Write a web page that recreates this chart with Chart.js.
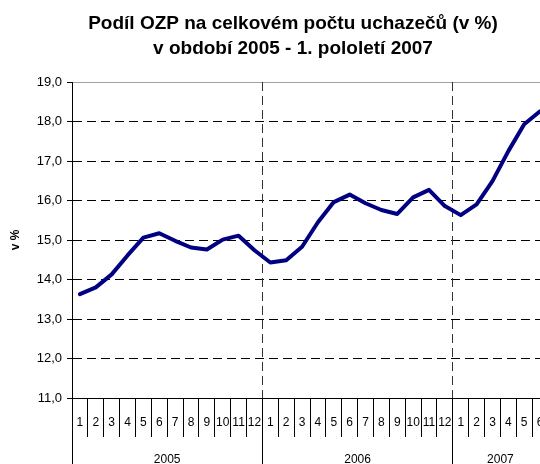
<!DOCTYPE html>
<html>
<head>
<meta charset="utf-8">
<script src="https://cdn.jsdelivr.net/npm/chart.js@4"></script>
<style>
html,body{margin:0;padding:0;overflow:hidden;background:#fff;width:540px;height:464px;}
#wrap{position:absolute;left:0;top:0;width:586px;height:480px;}
</style>
</head>
<body>
<div id="wrap"><canvas id="c" width="586" height="480"></canvas></div>
<script>
// ---- data ----
const years = ['2005', '2006', '2007'];
const months2005 = ['1','2','3','4','5','6','7','8','9','10','11','12'];
const months2006 = ['1','2','3','4','5','6','7','8','9','10','11','12'];
const months2007 = ['1','2','3','4','5','6'];
const values2005 = [13.63, 13.80, 14.13, 14.61, 15.06, 15.17, 14.98, 14.81, 14.76, 15.01, 15.11, 14.74];
const values2006 = [14.43, 14.49, 14.83, 15.45, 15.96, 16.15, 15.93, 15.76, 15.66, 16.08, 16.27, 15.86];
const values2007 = [15.63, 15.90, 16.49, 17.25, 17.93, 18.26];
const yTickMin = 11, yTickMax = 19, yTickStep = 1;
const titleLines = ['Podíl OZP na celkovém počtu uchazečů (v %)', 'v období 2005 - 1. pololetí 2007'];
const yTitle = 'v %';

// ---- derived ----
const monthGroups = [months2005, months2006, months2007];
const labels = [].concat(...monthGroups);
const values = [].concat(values2005, values2006, values2007);
const boundaries = [0];
monthGroups.forEach(g => boundaries.push(boundaries[boundaries.length - 1] + g.length));
const centers = monthGroups.map((g, i) => boundaries[i] + g.length / 2);
const yearTicks = boundaries.concat(centers).sort((a, b) => a - b);
const FONT = "'Liberation Sans', Arial, sans-serif";

new Chart(document.getElementById('c'), {
  type: 'line',
  data: {
    labels: labels,
    datasets: [{
      data: values,
      borderColor: '#000080',
      borderWidth: 4,
      pointRadius: 0,
      tension: 0,
      fill: false,
      borderJoinStyle: 'round',
      borderCapStyle: 'round'
    }]
  },
  options: {
    responsive: false,
    animation: false,
    layout: { padding: 0 },
    plugins: {
      legend: { display: false },
      tooltip: { enabled: false },
      title: {
        display: true,
        text: titleLines,
        color: '#000',
        font: { family: FONT, size: 19, weight: 'bold', lineHeight: 1.29 },
        padding: { top: 11.75, bottom: 21.25 }
      }
    },
    scales: {
      y: {
        min: yTickMin, max: yTickMax,
        afterFit: s => { s.width = 72; },
        ticks: {
          stepSize: yTickStep,
          color: '#000',
          padding: 5,
          font: { family: FONT, size: 13 },
          callback: v => Number(v).toFixed(1).replace('.', ',')
        },
        title: {
          display: true, text: yTitle, color: '#000',
          font: { family: FONT, size: 12, weight: 'bold' },
          padding: { top: 8, bottom: 0 }
        },
        grid: {
          color: ctx => (ctx.tick && ctx.tick.value === yTickMax) ? '#a0a0a0' : '#000',
          lineWidth: 1,
          tickLength: 5,
          tickColor: '#000'
        },
        border: {
          display: true, color: '#000', width: 1,
          dash: ctx => (ctx.tick && ctx.tick.value === yTickMax) ? [] : [9, 5]
        }
      },
      yRight: {
        type: 'linear',
        position: 'right',
        display: true,
        min: yTickMin, max: yTickMax,
        afterFit: s => { s.width = 38; },
        ticks: { display: false },
        grid: { drawOnChartArea: false, drawTicks: false, color: 'transparent' },
        border: { display: false }
      },
      x: {
        type: 'category',
        offset: true,
        weight: 0,
        afterFit: s => { s.height = 39; },
        ticks: {
          autoSkip: false, maxRotation: 0, minRotation: 0,
          color: '#000', padding: -22,
          font: { family: FONT, size: 12 }
        },
        grid: {
          offset: true,
          color: ctx => (boundaries.includes(ctx.index) && ctx.index > 0) ? '#333' : 'transparent',
          lineWidth: 1,
          tickLength: 39,
          tickColor: '#000',
          tickWidth: 1
        },
        border: { display: true, color: '#000', width: 1, dash: [9, 5] }
      },
      x2: {
        type: 'linear',
        position: 'bottom',
        weight: 1,
        min: boundaries[0], max: boundaries[boundaries.length - 1],
        offset: false,
        afterFit: s => { s.height = 43; },
        afterBuildTicks: s => { s.ticks = yearTicks.map(v => ({ value: v })); },
        ticks: {
          autoSkip: false, maxRotation: 0, minRotation: 0,
          color: '#000', padding: -28,
          font: { family: FONT, size: 12 },
          callback: v => { const i = centers.indexOf(v); return i >= 0 ? years[i] : ''; }
        },
        grid: {
          drawOnChartArea: false,
          color: 'transparent',
          tickLength: 43,
          tickColor: ctx => (ctx.tick && boundaries.includes(ctx.tick.value)) ? '#000' : 'transparent',
          tickWidth: 1
        },
        border: { display: false }
      }
    }
  }
});
</script>
</body>
</html>
